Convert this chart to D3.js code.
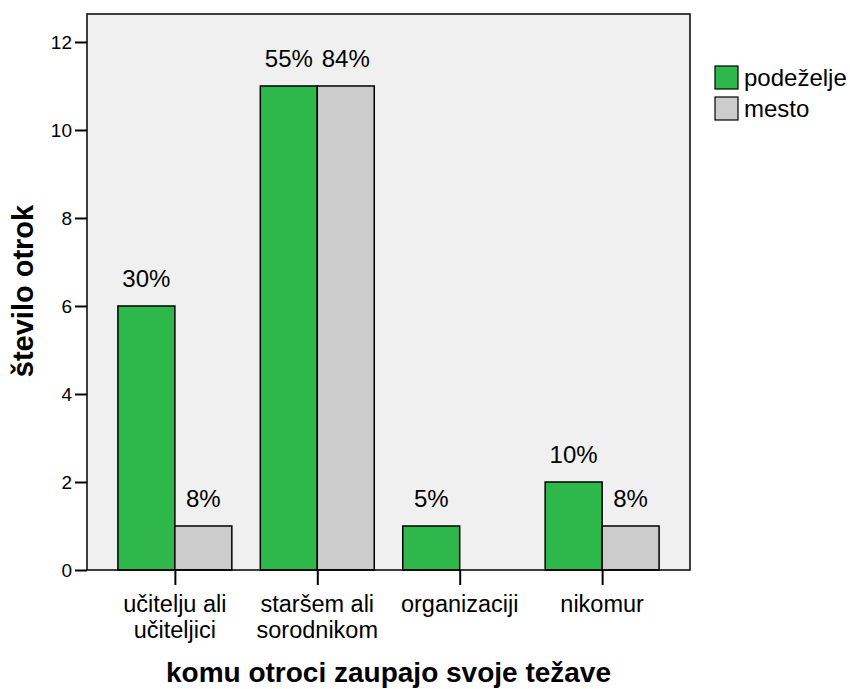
<!DOCTYPE html>
<html>
<head>
<meta charset="utf-8">
<script src="https://cdn.jsdelivr.net/npm/d3@7"></script>
<style>
  body { margin: 0; background: #fff; }
  text { font-family: "Liberation Sans", Arial, sans-serif; fill: #000; }
</style>
</head>
<body>
<div id="chart"></div>
<script>
(function () {

  // categories + values
  const categories = [["učitelju ali", "učiteljici"], ["staršem ali", "sorodnikom"], ["organizaciji"], ["nikomur"]]
  const series = ["podeželje", "mesto"]
  const podezelje = [6, 11, 1, 2]
  const mesto = [1, 11, 0, 1]
  const podezeljeLabels = ["30%", "55%", "5%", "10%"]
  const mestoLabels = ["8%", "84%", null, "8%"]
  const yTicks = [0, 2, 4, 6, 8, 10, 12]

  const margin = { top: 14, left: 87 }
  const width = 603
  const height = 556

  const svg = d3.select("#chart").append("svg")
      .attr("width", 850)
      .attr("height", 689)

  const g = svg.append("g")
      .attr("transform", "translate(" + margin.left + "," + margin.top + ")")

  const keys = categories.map(d => d.join(" "))

  const xPositionScale = d3.scalePoint()
    .domain(keys)
    .range([0, width])
    .padding(0.617)

  const barWidth = xPositionScale.step() * 0.4

  const yPositionScale = d3.scaleLinear()
    .domain([0, 12.636])
    .range([height, 0])

  const colorScale = d3.scaleOrdinal()
    .domain(series)
    .range(["#2eb84b", "#cccccc"])

  // plot background
  g.append("rect")
    .attr("width", width)
    .attr("height", height)
    .attr("fill", "#f0f0f0")

  const rows = []
  keys.forEach((k, i) => {
    rows.push({ key: k, s: "podeželje", v: podezelje[i], label: podezeljeLabels[i], off: -barWidth })
    rows.push({ key: k, s: "mesto", v: mesto[i], label: mestoLabels[i], off: 0 })
  })
  const visible = rows.filter(d => d.v > 0)

  g.selectAll(".bar")
    .data(visible)
    .join("rect")
    .attr("class", "bar")
    .attr("x", d => xPositionScale(d.key) + d.off)
    .attr("y", d => yPositionScale(d.v))
    .attr("width", barWidth)
    .attr("height", d => height - yPositionScale(d.v))
    .attr("fill", d => colorScale(d.s))
    .attr("stroke", "#000")
    .attr("stroke-width", 1.5)

  g.selectAll(".bar-label")
    .data(visible)
    .join("text")
    .attr("class", "bar-label")
    .attr("x", d => xPositionScale(d.key) + d.off + barWidth / 2)
    .attr("y", d => yPositionScale(d.v) - 19)
    .attr("text-anchor", "middle")
    .style("font-size", "24px")
    .text(d => d.label)

  // frame
  g.append("rect")
    .attr("width", width)
    .attr("height", height)
    .attr("fill", "none")
    .attr("stroke", "#000")
    .attr("stroke-width", 1.5)

  const yAxis = d3.axisLeft(yPositionScale)
    .tickValues(yTicks)
    .tickSize(12)
    .tickPadding(3)
  const ya = g.append("g")
    .attr("class", "axis y-axis")
    .call(yAxis)
  ya.select(".domain").remove()
  ya.selectAll("line").attr("stroke-width", 2)
  ya.selectAll("text").style("font-size", "19px").attr("dy", "0.36em")

  const xAxis = d3.axisBottom(xPositionScale)
    .tickSize(15)
    .tickFormat("")
  const xa = g.append("g")
    .attr("class", "axis x-axis")
    .attr("transform", "translate(0," + height + ")")
    .call(xAxis)
  xa.select(".domain").remove()
  xa.selectAll("line").attr("stroke-width", 2)

  // category labels, one text per line
  categories.forEach((lines, i) => {
    lines.forEach((l, j) => {
      g.append("text")
        .attr("class", "cat-label")
        .attr("text-anchor", "middle")
        .attr("x", xPositionScale(keys[i]))
        .attr("y", 612 - margin.top + j * 26)
        .style("font-size", "23.5px")
        .text(l)
    })
  })

  svg.append("text")
    .attr("x", margin.left + width / 2)
    .attr("y", 682)
    .attr("text-anchor", "middle")
    .style("font-size", "28px")
    .style("font-weight", "bold")
    .text("komu otroci zaupajo svoje težave")

  svg.append("text")
    .attr("transform", "translate(33,291) rotate(-90)")
    .attr("text-anchor", "middle")
    .style("font-size", "29px")
    .style("font-weight", "bold")
    .text("število otrok")

  // legend
  const legend = svg.append("g")
    .attr("transform", "translate(715,66)")
  series.forEach((s, i) => {
    legend.append("rect")
      .attr("x", 0)
      .attr("y", i * 31)
      .attr("width", 23)
      .attr("height", 23)
      .attr("fill", colorScale(s))
      .attr("stroke", "#000")
      .attr("stroke-width", 1.2)
    legend.append("text")
      .attr("x", 29)
      .attr("y", i * 31 + 20)
      .style("font-size", "24px")
      .text(s)
  })

})();
</script>
</body>
</html>
